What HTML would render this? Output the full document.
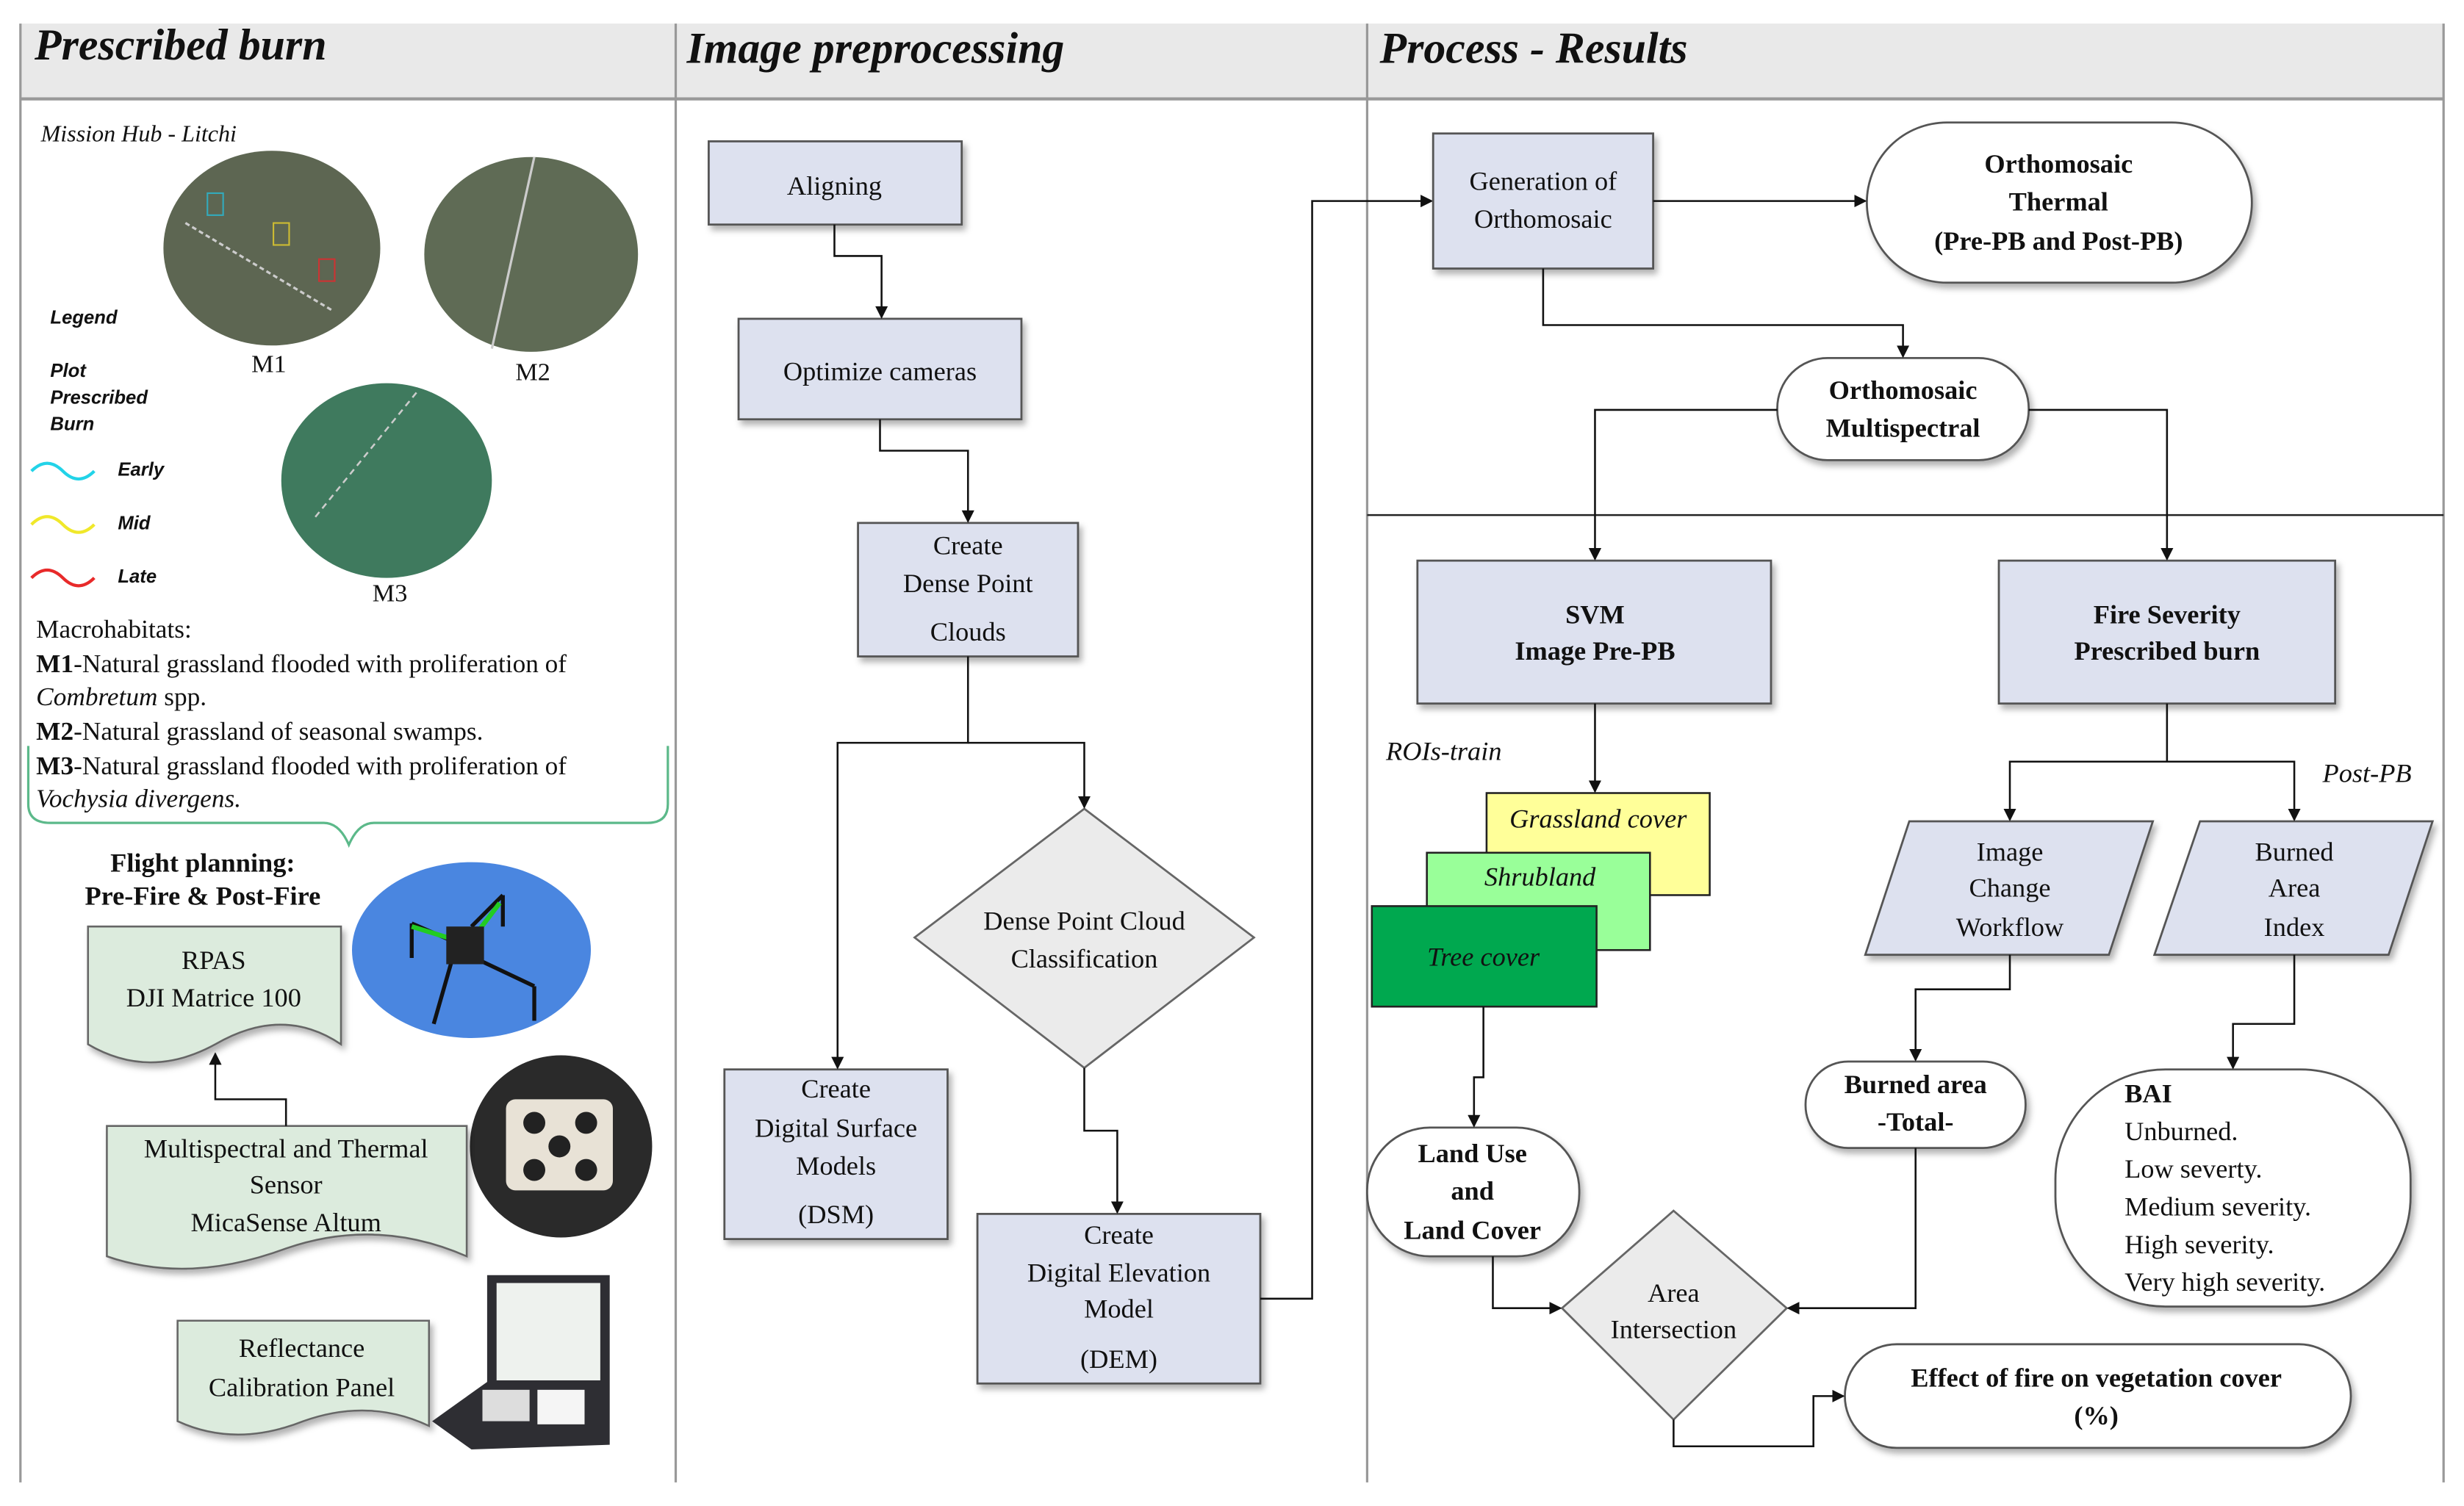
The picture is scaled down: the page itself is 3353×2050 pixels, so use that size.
<!DOCTYPE html>
<html><head><meta charset="utf-8"><style>
html,body{margin:0;padding:0;background:#fff;}
svg{display:block;}
text{font-family:"Liberation Serif",serif;fill:#111;}
.t{font-size:17px;text-anchor:middle;}
.b{font-weight:bold;}
.i{font-style:italic;}
.lg{font-family:"Liberation Sans",sans-serif;font-weight:bold;font-style:italic;font-size:12px;}
</style></head><body>
<svg width="3353" height="2050" viewBox="0 0 1568 959" preserveAspectRatio="none" xmlns="http://www.w3.org/2000/svg">
<defs>
<marker id="a" markerWidth="8" markerHeight="8" refX="7" refY="4" orient="auto" markerUnits="userSpaceOnUse"><path d="M0,0 L8,4 L0,8 Z" fill="#111"/></marker>
<filter id="s" x="-10%" y="-10%" width="130%" height="130%"><feDropShadow dx="2" dy="3" stdDeviation="2" flood-color="#000" flood-opacity="0.3"/></filter>
</defs>
<!-- frame -->
<rect x="13" y="15" width="1542" height="48" fill="#e9e9e9"/>
<line x1="13" y1="63" x2="1555" y2="63" stroke="#999" stroke-width="2"/>
<line x1="13" y1="15" x2="13" y2="944" stroke="#999" stroke-width="1.5"/>
<line x1="430" y1="15" x2="430" y2="944" stroke="#999" stroke-width="1.5"/>
<line x1="870" y1="15" x2="870" y2="944" stroke="#999" stroke-width="1.5"/>
<line x1="1555" y1="15" x2="1555" y2="944" stroke="#999" stroke-width="1.5"/>
<line x1="870" y1="328" x2="1555" y2="328" stroke="#222" stroke-width="1.2"/>
<text x="22" y="38" class="b i" font-size="28">Prescribed burn</text>
<text x="437" y="40" class="b i" font-size="28">Image preprocessing</text>
<text x="878" y="40" class="b i" font-size="28">Process - Results</text>

<!-- left column -->
<text x="26" y="90" class="i" font-size="15">Mission Hub - Litchi</text>
<ellipse cx="173" cy="158" rx="69" ry="62" fill="#5d6652"/>
<ellipse cx="338" cy="162" rx="68" ry="62" fill="#5f6b55"/>
<ellipse cx="246" cy="306" rx="67" ry="62" fill="#3f7a5e"/>
<line x1="118" y1="142" x2="212" y2="198" stroke="#ccc" stroke-width="1.5" stroke-dasharray="3,2"/>
<line x1="340" y1="100" x2="313" y2="222" stroke="#ccc" stroke-width="1.5"/>
<line x1="265" y1="250" x2="200" y2="330" stroke="#ccc" stroke-width="1.2" stroke-dasharray="4,3"/>
<rect x="132" y="123" width="10" height="14" fill="none" stroke="#3ab" stroke-width="1"/>
<rect x="174" y="142" width="10" height="14" fill="none" stroke="#cb3" stroke-width="1"/>
<rect x="203" y="165" width="10" height="14" fill="none" stroke="#c33" stroke-width="1"/>
<text x="160" y="237" font-size="16">M1</text>
<text x="328" y="242" font-size="16">M2</text>
<text x="237" y="383" font-size="16">M3</text>
<text x="32" y="206" class="lg">Legend</text>
<text x="32" y="240" class="lg">Plot</text>
<text x="32" y="257" class="lg">Prescribed</text>
<text x="32" y="274" class="lg">Burn</text>
<text x="75" y="303" class="lg">Early</text>
<text x="75" y="337" class="lg">Mid</text>
<text x="75" y="371" class="lg">Late</text>
<path d="M20,300 q10,-10 20,0 t20,0" fill="none" stroke="#22d3e8" stroke-width="2"/>
<path d="M20,334 q10,-10 20,0 t20,0" fill="none" stroke="#f0e82a" stroke-width="2"/>
<path d="M20,368 q10,-10 20,0 t20,0" fill="none" stroke="#e82a2a" stroke-width="2"/>
<g font-size="16.5">
<text x="23" y="406">Macrohabitats:</text>
<text x="23" y="428"><tspan font-weight="bold">M1</tspan>-Natural grassland flooded with proliferation of</text>
<text x="23" y="449" font-style="italic">Combretum <tspan font-style="normal">spp.</tspan></text>
<text x="23" y="471"><tspan font-weight="bold">M2</tspan>-Natural grassland of seasonal swamps.</text>
<text x="23" y="493"><tspan font-weight="bold">M3</tspan>-Natural grassland flooded with proliferation of</text>
<text x="23" y="514" font-style="italic">Vochysia divergens.</text>
</g>
<path d="M18,475 L18,512 Q18,524 32,524 L206,524 Q216,524 222,538 Q228,524 238,524 L412,524 Q425,524 425,512 L425,475" fill="none" stroke="#5cb98a" stroke-width="1.5"/>
<text x="129" y="555" class="t b" font-size="16">Flight planning:</text>
<text x="129" y="576" class="t b" font-size="16">Pre-Fire &amp; Post-Fire</text>
<!-- drone -->
<ellipse cx="300" cy="605" rx="76" ry="56" fill="#4a86e0"/>
<g stroke="#111" stroke-width="2.5" fill="none">
<line x1="262" y1="588" x2="285" y2="598"/><line x1="300" y1="590" x2="320" y2="570"/><line x1="302" y1="610" x2="340" y2="628"/><line x1="288" y1="610" x2="276" y2="652"/>
<line x1="262" y1="588" x2="262" y2="610"/><line x1="340" y1="628" x2="340" y2="650"/><line x1="320" y1="570" x2="320" y2="590"/>
</g>
<line x1="262" y1="590" x2="288" y2="598" stroke="#2c2" stroke-width="3"/>
<line x1="302" y1="596" x2="318" y2="575" stroke="#2c2" stroke-width="3"/>
<rect x="284" y="590" width="24" height="24" fill="#222"/>
<!-- RPAS doc -->
<path d="M56,590 L217,590 L217,665 Q180,640 137,665 Q95,688 56,665 Z" fill="#dcebdd" stroke="#666" stroke-width="1.2" filter="url(#s)"/>
<text x="136" y="617" class="t">RPAS</text>
<text x="136" y="641" class="t">DJI Matrice 100</text>
<!-- camera -->
<circle cx="357" cy="730" r="58" fill="#2a2a2a"/>
<rect x="322" y="700" width="68" height="58" rx="6" fill="#e8e2d6"/>
<g fill="#222"><circle cx="340" cy="715" r="7"/><circle cx="373" cy="715" r="7"/><circle cx="356" cy="730" r="7"/><circle cx="340" cy="745" r="7"/><circle cx="373" cy="745" r="7"/></g>
<!-- multispectral doc -->
<path d="M68,717 L297,717 L297,800 Q240,775 182,795 Q120,818 68,800 Z" fill="#dcebdd" stroke="#666" stroke-width="1.2" filter="url(#s)"/>
<text x="182" y="737" class="t">Multispectral and Thermal</text>
<text x="182" y="760" class="t">Sensor</text>
<text x="182" y="784" class="t">MicaSense Altum</text>
<polyline points="182,717 182,700 137,700 137,671" fill="none" stroke="#111" stroke-width="1.2" marker-end="url(#a)"/>
<!-- reflectance -->
<path d="M113,841 L273,841 L273,908 Q235,890 193,905 Q150,922 113,905 Z" fill="#dcebdd" stroke="#666" stroke-width="1.2" filter="url(#s)"/>
<text x="192" y="864" class="t">Reflectance</text>
<text x="192" y="889" class="t">Calibration Panel</text>
<path d="M310,812 L388,812 L388,920 L300,923 L275,905 L310,880 Z" fill="#2e2e33"/>
<rect x="316" y="817" width="66" height="62" fill="#eef2ee"/>
<rect x="307" y="885" width="30" height="20" fill="#ddd"/>
<rect x="342" y="885" width="30" height="22" fill="#f5f5f5"/>

<!-- middle column -->
<g fill="#dde1ef" stroke="#555" stroke-width="1.3" filter="url(#s)">
<rect x="451" y="90" width="161" height="53"/>
<rect x="470" y="203" width="180" height="64"/>
<rect x="546" y="333" width="140" height="85"/>
<rect x="461" y="681" width="142" height="108"/>
<rect x="622" y="773" width="180" height="108"/>
</g>
<polygon points="690,515 798,597 690,680 582,597" fill="#ebebeb" stroke="#666" stroke-width="1.3"/>
<text x="531" y="124" class="t" font-size="18">Aligning</text>
<text x="560" y="242" class="t" font-size="18">Optimize cameras</text>
<text x="616" y="353" class="t" font-size="18">Create</text>
<text x="616" y="377" class="t" font-size="18">Dense Point</text>
<text x="616" y="408" class="t" font-size="18">Clouds</text>
<text x="690" y="592" class="t" font-size="18">Dense Point Cloud</text>
<text x="690" y="616" class="t" font-size="18">Classification</text>
<text x="532" y="699" class="t" font-size="18">Create</text>
<text x="532" y="724" class="t" font-size="18">Digital Surface</text>
<text x="532" y="748" class="t" font-size="18">Models</text>
<text x="532" y="779" class="t" font-size="18">(DSM)</text>
<text x="712" y="792" class="t" font-size="18">Create</text>
<text x="712" y="816" class="t" font-size="18">Digital Elevation</text>
<text x="712" y="839" class="t" font-size="18">Model</text>
<text x="712" y="871" class="t" font-size="18">(DEM)</text>
<g fill="none" stroke="#111" stroke-width="1.2" marker-end="url(#a)">
<polyline points="531,143 531,163 561,163 561,202"/>
<polyline points="560,267 560,287 616,287 616,332"/>
<polyline points="616,418 616,473 533,473 533,680"/>
<polyline points="616,473 690,473 690,514"/>
<polyline points="690,680 690,720 711,720 711,772"/>
<polyline points="802,827 835,827 835,128 911,128"/>
</g>

<!-- right column -->
<g fill="#dde1ef" stroke="#555" stroke-width="1.3" filter="url(#s)">
<rect x="912" y="85" width="140" height="86"/>
<rect x="902" y="357" width="225" height="91"/>
<rect x="1272" y="357" width="214" height="91"/>
<polygon points="1215,523 1370,523 1342,608 1187,608"/>
<polygon points="1400,523 1548,523 1520,608 1371,608"/>
</g>
<g fill="#fff" stroke="#555" stroke-width="1.3" filter="url(#s)">
<rect x="1188" y="78" width="245" height="102" rx="51"/>
<rect x="1131" y="228" width="160" height="65" rx="32"/>
<rect x="870" y="718" width="135" height="82" rx="40"/>
<rect x="1149" y="676" width="140" height="55" rx="27"/>
<rect x="1308" y="681" width="226" height="151" rx="70"/>
<rect x="1174" y="856" width="322" height="66" rx="33"/>
</g>
<polygon points="1065,771 1137,833 1065,904 994,833" fill="#ebebeb" stroke="#666" stroke-width="1.3"/>
<rect x="946" y="505" width="142" height="65" fill="#ffff99" stroke="#222" stroke-width="1.2"/>
<rect x="908" y="543" width="142" height="62" fill="#99ff99" stroke="#222" stroke-width="1.2"/>
<rect x="873" y="577" width="143" height="64" fill="#00a84f" stroke="#222" stroke-width="1.2"/>
<text x="982" y="121" class="t">Generation of</text>
<text x="982" y="145" class="t">Orthomosaic</text>
<text x="1310" y="110" class="t b">Orthomosaic</text>
<text x="1310" y="134" class="t b">Thermal</text>
<text x="1310" y="159" class="t b">(Pre-PB and Post-PB)</text>
<text x="1211" y="254" class="t b">Orthomosaic</text>
<text x="1211" y="278" class="t b">Multispectral</text>
<text x="1015" y="397" class="t b">SVM</text>
<text x="1015" y="420" class="t b">Image Pre-PB</text>
<text x="1379" y="397" class="t b">Fire Severity</text>
<text x="1379" y="420" class="t b">Prescribed burn</text>
<text x="1017" y="527" class="t i">Grassland cover</text>
<text x="980" y="564" class="t i">Shrubland</text>
<text x="944" y="615" class="t i">Tree cover</text>
<text x="1279" y="548" class="t">Image</text>
<text x="1279" y="571" class="t">Change</text>
<text x="1279" y="596" class="t">Workflow</text>
<text x="1460" y="548" class="t">Burned</text>
<text x="1460" y="571" class="t">Area</text>
<text x="1460" y="596" class="t">Index</text>
<text x="937" y="740" class="t b">Land Use</text>
<text x="937" y="764" class="t b">and</text>
<text x="937" y="789" class="t b">Land Cover</text>
<text x="1219" y="696" class="t b">Burned area</text>
<text x="1219" y="720" class="t b">-Total-</text>
<text x="1065" y="829" class="t">Area</text>
<text x="1065" y="852" class="t">Intersection</text>
<text x="1334" y="883" class="t b">Effect of fire on vegetation cover</text>
<text x="1334" y="907" class="t b">(%)</text>
<g font-size="17">
<text x="1352" y="702" class="b">BAI</text>
<text x="1352" y="726">Unburned.</text>
<text x="1352" y="750">Low severty.</text>
<text x="1352" y="774">Medium severity.</text>
<text x="1352" y="798">High severity.</text>
<text x="1352" y="822">Very high severity.</text>
</g>
<text x="882" y="484" class="i" font-size="17">ROIs-train</text>
<text x="1478" y="498" class="i" font-size="17">Post-PB</text>
<g fill="none" stroke="#111" stroke-width="1.2" marker-end="url(#a)">
<polyline points="1052,128 1187,128"/>
<polyline points="982,171 982,207 1211,207 1211,227"/>
<polyline points="1131,261 1015,261 1015,356"/>
<polyline points="1291,261 1379,261 1379,356"/>
<polyline points="1015,448 1015,504"/>
<polyline points="1379,448 1379,485 1279,485 1279,522"/>
<polyline points="1379,485 1460,485 1460,522"/>
<polyline points="944,641 944,686 938,686 938,717"/>
<polyline points="1279,608 1279,630 1219,630 1219,675"/>
<polyline points="1460,608 1460,652 1421,652 1421,680"/>
<polyline points="950,800 950,833 993,833"/>
<polyline points="1219,731 1219,833 1138,833"/>
<polyline points="1065,904 1065,921 1154,921 1154,889 1173,889"/>
</g>
</svg>
</body></html>
